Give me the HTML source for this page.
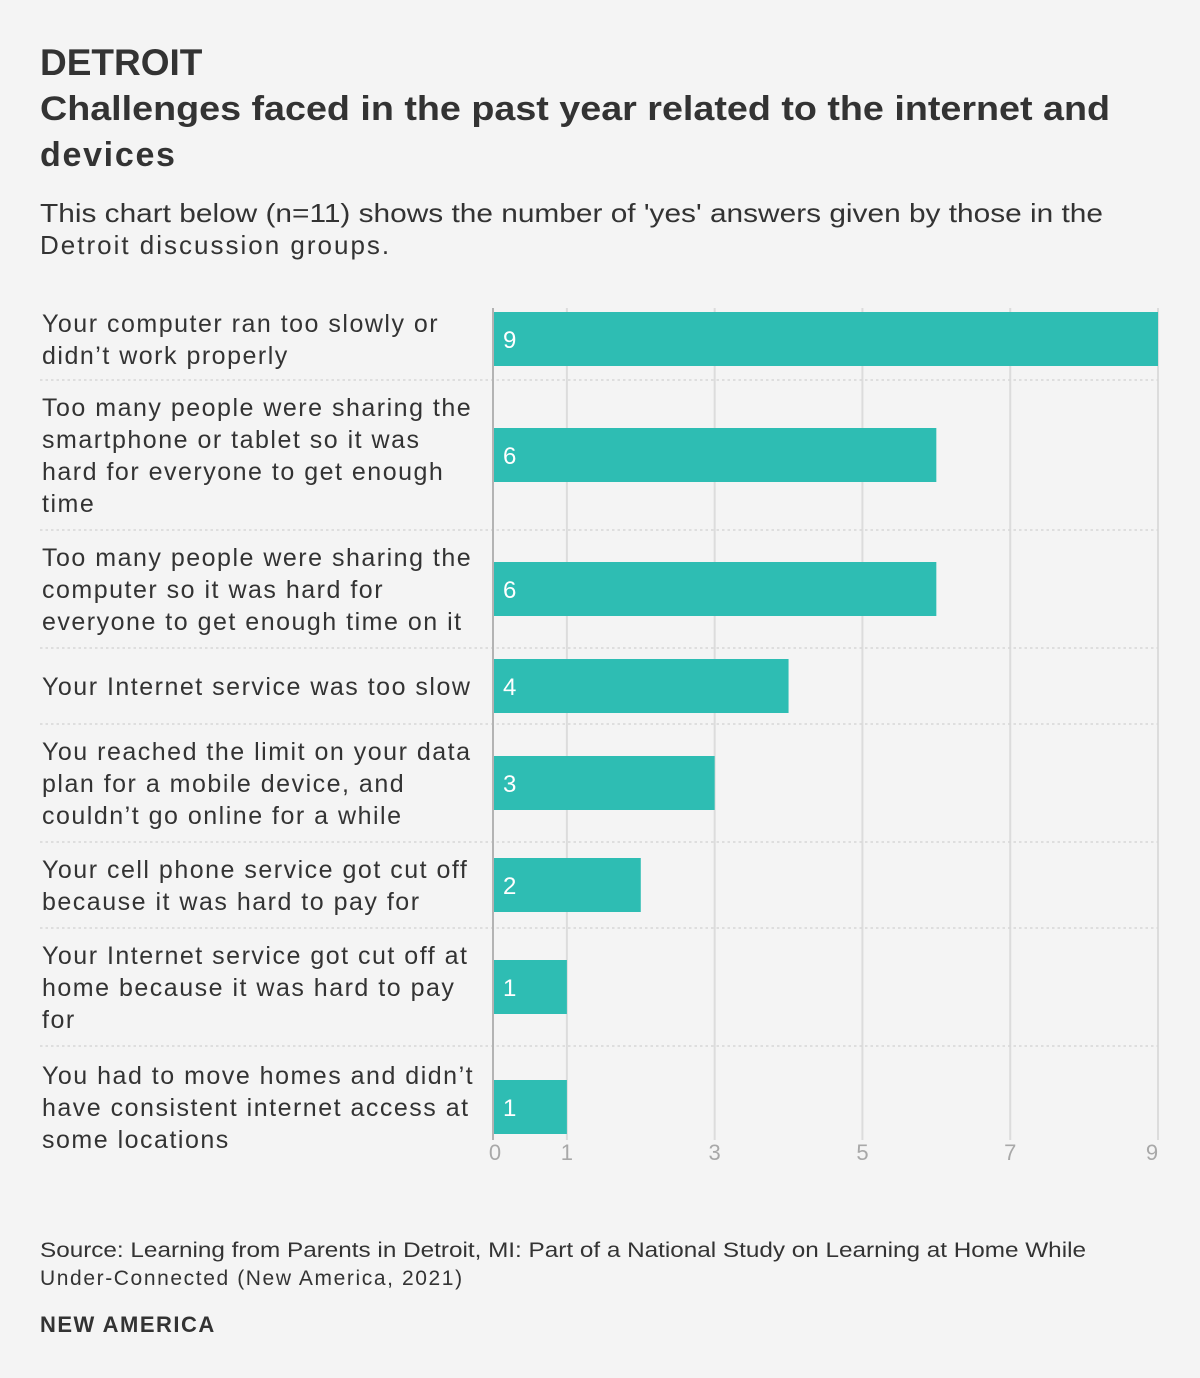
<!DOCTYPE html>
<html><head><meta charset="utf-8"><style>
html,body{margin:0;padding:0;background:#f4f4f4;}
svg{display:block;font-family:"Liberation Sans",sans-serif;}
</style></head><body>
<svg id="chart" width="1200" height="1378" viewBox="0 0 1200 1378">
<rect width="1200" height="1378" fill="#f4f4f4"/>
<text x="40" y="75" font-size="37" font-weight="bold" fill="#333">DETROIT</text>
<text font-size="34" font-weight="bold" fill="#333">
<tspan x="40" y="120" textLength="1070" lengthAdjust="spacingAndGlyphs">Challenges faced in the past year related to the internet and</tspan>
<tspan x="40" y="166" letter-spacing="1.7">devices</tspan></text>
<text font-size="26" fill="#333">
<tspan x="40" y="222" textLength="1063" lengthAdjust="spacingAndGlyphs">This chart below (n=11) shows the number of 'yes' answers given by those in the</tspan>
<tspan x="40" y="254" letter-spacing="2">Detroit discussion groups.</tspan></text>
<g id="plot"></g>
<text font-size="21" fill="#333">
<tspan x="40" y="1257" textLength="1046" lengthAdjust="spacingAndGlyphs">Source: Learning from Parents in Detroit, MI: Part of a National Study on Learning at Home While</tspan>
<tspan x="40" y="1285" letter-spacing="1.6">Under-Connected (New America, 2021)</tspan></text>
<text x="40" y="1332" font-size="22" font-weight="bold" fill="#333" letter-spacing="1.5">NEW AMERICA</text>
</svg>
<script>
const categories = [
 ["Your computer ran too slowly or","didn’t work properly"],
 ["Too many people were sharing the","smartphone or tablet so it was","hard for everyone to get enough","time"],
 ["Too many people were sharing the","computer so it was hard for","everyone to get enough time on it"],
 ["Your Internet service was too slow"],
 ["You reached the limit on your data","plan for a mobile device, and","couldn’t go online for a while"],
 ["Your cell phone service got cut off","because it was hard to pay for"],
 ["Your Internet service got cut off at","home because it was hard to pay","for"],
 ["You had to move homes and didn’t","have consistent internet access at","some locations"]
];
const values = [9,6,6,4,3,2,1,1];
const tickValues = [0,1,3,5,7,9];
const rowBounds = [298,380,530,648,724,842,928,1046,1168];

const NS="http://www.w3.org/2000/svg";
const g=document.getElementById('plot');
const x0=493, x1=1158, xMax=9;
const xScale=v=>x0+(x1-x0)*v/xMax;
function mk(tag,attrs,parent){const e=document.createElementNS(NS,tag);for(const k in attrs)e.setAttribute(k,attrs[k]);(parent||g).appendChild(e);return e;}
const gTop=308, gBot=1140;
tickValues.forEach((t,i)=>{
  if(t===0)return;
  const l=mk('line',{x1:xScale(t),x2:xScale(t),y1:gTop,y2:gBot,stroke:'#dcdcdc','stroke-width':2});
  
  
});
for(let i=1;i<rowBounds.length-1;i++){
  const l=mk('line',{x1:40,x2:1158,y1:rowBounds[i],y2:rowBounds[i],stroke:'#d6d6d6','stroke-width':1.5,'stroke-dasharray':'2.5,3'});
  
  
}
const ax=mk('line',{x1:x0,x2:x0,y1:gTop,y2:gBot,stroke:'#b3b3b3','stroke-width':2});


values.forEach((v,i)=>{
  const c=(rowBounds[i]+rowBounds[i+1])/2;
  const b=mk('rect',{x:x0+1,y:c-27,width:xScale(v)-x0-1,height:54,fill:'#2ebdb3'});
  
  
  const t=mk('text',{x:503,y:c+9,'font-size':24,fill:'#fff'});
  t.textContent=v;
  
  
  const lines=categories[i];
  const lab=mk('text',{'font-size':25,fill:'#333','letter-spacing':1.5});
  
  
  lines.forEach((s,j)=>{
    const ts=mk('tspan',{x:42,y:c+9+(j-(lines.length-1)/2)*32},lab);
    ts.textContent=s;
  });
});
tickValues.forEach(t=>{
  let x=xScale(t);
  if(t===xMax)x-=6; if(t===0)x+=2;
  const tl=mk('text',{x:x,y:1160,'font-size':22,fill:'#a8a8a8','text-anchor':'middle'});
  tl.textContent=t;
  
  
});
</script>
</body></html>
